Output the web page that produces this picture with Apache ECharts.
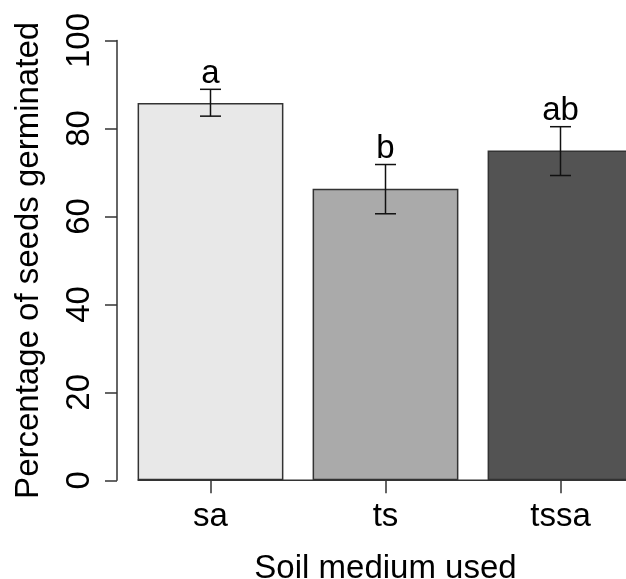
<!DOCTYPE html>
<html>
<head>
<meta charset="utf-8">
<script src="https://cdn.jsdelivr.net/npm/echarts@6/dist/echarts.min.js"></script>
<style>html,body{margin:0;padding:0;background:#fff}#c{width:626px;height:579px}</style>
</head>
<body>
<div id="c"></div>
<script>
const categories = ['sa', 'ts', 'tssa'];
const means = [85.8, 66.3, 75.0];
const lowers = [82.8, 60.6, 69.3];
const uppers = [88.9, 71.8, 80.4];
const letters = ['a', 'b', 'ab'];
const barColors = ['#e8e8e8', '#aaaaaa', '#535353'];
const yTicks = [0, 20, 40, 60, 80, 100];

const FONT = 'Liberation Sans, Arial, sans-serif';
const FS = 33;
const AX = '#333';

const chart = echarts.init(document.getElementById('c'), null, {renderer: 'canvas'});
const gapRatio = 0.1667;

const option = {
  animation: false,
  backgroundColor: '#fff',
  grid: {left: 123, width: 525, top: 40.5, height: 439.8, containLabel: false, outerBoundsMode: 'none'},
  xAxis: {
    type: 'category',
    data: categories,
    axisLine: {show: false},
    axisTick: {show: true, alignWithLabel: true, length: 13, lineStyle: {color: AX, width: 1.5}},
    axisLabel: {color: '#000', fontSize: FS, fontFamily: FONT, margin: 20},
    name: 'Soil medium used',
    nameLocation: 'middle',
    nameGap: 72,
    nameTextStyle: {color: '#000', fontSize: FS, fontFamily: FONT},
    splitLine: {show: false}
  },
  yAxis: {
    type: 'value',
    min: yTicks[0],
    max: yTicks[yTicks.length - 1],
    interval: 20,
    offset: 6,
    axisLine: {show: true, lineStyle: {color: AX, width: 1.5}},
    axisTick: {show: true, length: 12, lineStyle: {color: AX, width: 1.5}},
    axisLabel: {color: '#000', fontSize: FS, fontFamily: FONT, rotate: 90, margin: 21},
    splitLine: {show: false},
    name: 'Percentage of seeds germinated',
    nameLocation: 'middle',
    nameGap: 72,
    nameTextStyle: {color: '#000', fontSize: FS, fontFamily: FONT}
  },
  series: [
    {
      type: 'bar',
      data: means.map((v, i) => ({value: v, itemStyle: {color: barColors[i]}})),
      barCategoryGap: (gapRatio * 100) + '%',
      itemStyle: {borderColor: AX, borderWidth: 1.5},
      z: 2
    },
    {
      type: 'custom',
      data: categories.map((c, i) => [i, lowers[i], uppers[i]]),
      z: 5,
      renderItem: function (params, api) {
        const x = api.value(0);
        const lo = api.coord([x, api.value(1)]);
        const hi = api.coord([x, api.value(2)]);
        const hw = 10.5;
        const st = {stroke: '#111', lineWidth: 1.5};
        return {
          type: 'group',
          children: [
            {type: 'line', shape: {x1: lo[0], y1: lo[1], x2: hi[0], y2: hi[1]}, style: st},
            {type: 'line', shape: {x1: lo[0] - hw, y1: lo[1], x2: lo[0] + hw, y2: lo[1]}, style: st},
            {type: 'line', shape: {x1: hi[0] - hw, y1: hi[1], x2: hi[0] + hw, y2: hi[1]}, style: st},
            {type: 'text', x: hi[0], y: hi[1] + 1,
              style: {text: letters[params.dataIndex], fill: '#000', font: FS + 'px ' + FONT, align: 'center', verticalAlign: 'bottom'}}
          ]
        };
      }
    }
  ]
};
chart.setOption(option);

// baseline from the left edge of the first bar to the plot's right edge, via the library's scale
const p0 = chart.convertToPixel({xAxisIndex: 0, yAxisIndex: 0}, [categories[0], 0]);
const p1 = chart.convertToPixel({xAxisIndex: 0, yAxisIndex: 0}, [categories[1], 0]);
const band = p1[0] - p0[0];
const leftEdge = p0[0] - band * (1 - gapRatio) / 2;
chart.setOption({
  graphic: [{
    type: 'line', z: 10,
    shape: {x1: leftEdge, y1: p0[1], x2: 626, y2: p0[1]},
    style: {stroke: AX, lineWidth: 1.5}
  }]
});
</script>
</body>
</html>
